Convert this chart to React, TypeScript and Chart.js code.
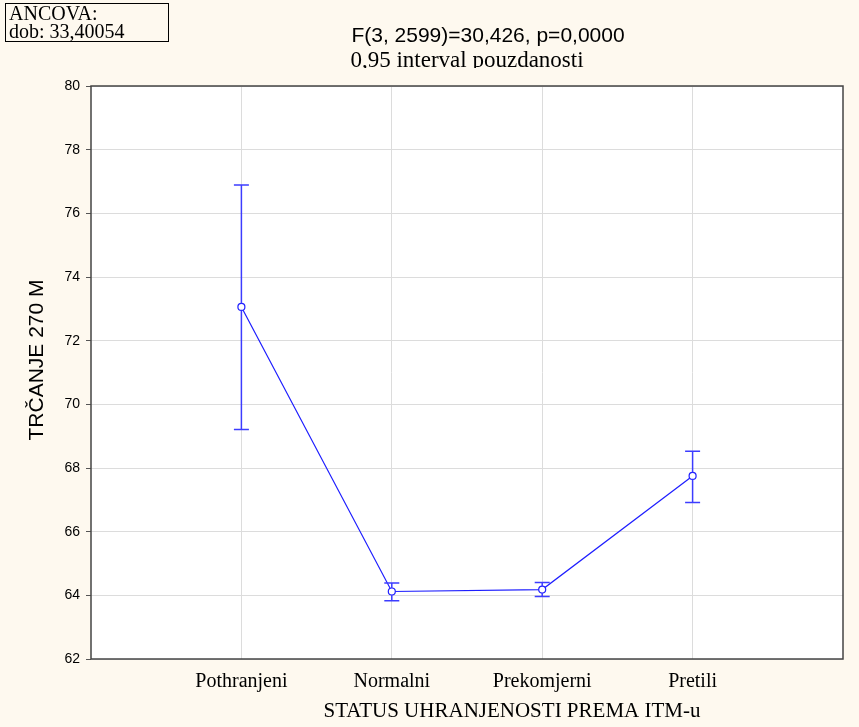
import React, { useEffect, useRef } from "react";
import { Chart, registerables } from "chart.js";

Chart.register(...registerables);

const categories = ["Pothranjeni", "Normalni", "Prekomjerni", "Pretili"];
const means = [73.06, 64.12, 64.18, 67.75];
const upperCI = [76.89, 64.39, 64.4, 68.53];
const lowerCI = [69.21, 63.83, 63.96, 66.92];
const yMin = 62;
const yMax = 80;
const yStep = 2;
const titleLine1 = "F(3, 2599)=30,426, p=0,0000";
const titleLine2 = "0,95 interval pouzdanosti";
const boxLines = ["ANCOVA:", "dob: 33,40054"];
const yTitle = "TRČANJE 270 M";
const xTitle = "STATUS UHRANJENOSTI PREMA ITM-u";

const BG = "#FEF9EF";
const BLUE = "rgb(30,30,255)";
const POINT_R = 3.5;

const decorPlugin = {
  id: "decor",
  beforeDraw(chart: any) {
    const { ctx, chartArea } = chart;
    ctx.save();
    ctx.fillStyle = BG;
    ctx.fillRect(0, 0, chart.width, chart.height);
    ctx.fillStyle = "#FFFFFF";
    ctx.fillRect(chartArea.left, chartArea.top, chartArea.right - chartArea.left, chartArea.bottom - chartArea.top);
    ctx.restore();
  },
  afterDatasetsDraw(chart: any) {
    const { ctx } = chart;
    const xs = chart.scales.x;
    const ys = chart.scales.y;
    ctx.save();
    ctx.strokeStyle = "rgb(60,60,255)";
    ctx.lineWidth = 1.5;
    ctx.setLineDash([]);
    for (let i = 0; i < categories.length; i++) {
      const x = xs.getPixelForValue(i + 1);
      const yu = ys.getPixelForValue(upperCI[i]);
      const yl = ys.getPixelForValue(lowerCI[i]);
      const ym = ys.getPixelForValue(means[i]);
      ctx.beginPath();
      if (ym - POINT_R > yu) {
        ctx.moveTo(x, yu);
        ctx.lineTo(x, ym - POINT_R);
      }
      if (ym + POINT_R < yl) {
        ctx.moveTo(x, ym + POINT_R);
        ctx.lineTo(x, yl);
      }
      ctx.moveTo(x - 7.5, yu);
      ctx.lineTo(x + 7.5, yu);
      ctx.moveTo(x - 7.5, yl);
      ctx.lineTo(x + 7.5, yl);
      ctx.stroke();
    }
    ctx.restore();
  },
  afterDraw(chart: any) {
    const { ctx, chartArea } = chart;
    const xs = chart.scales.x;
    ctx.save();
    // plot border
    ctx.strokeStyle = "#444444";
    ctx.lineWidth = 1.5;
    ctx.strokeRect(chartArea.left, chartArea.top, chartArea.right - chartArea.left, chartArea.bottom - chartArea.top);

    // x tick labels
    ctx.fillStyle = "#000";
    ctx.textAlign = "center";
    ctx.textBaseline = "middle";
    ctx.font = '20px "Liberation Serif"';
    categories.forEach((c, i) => {
      ctx.fillText(c, xs.getPixelForValue(i + 1), 682);
    });
    // x title
    ctx.font = '21px "Liberation Serif"';
    ctx.fillText(xTitle, 512, 711);

    // title lines
    ctx.font = '21px "Liberation Sans"';
    ctx.fillText(titleLine1, 488, 36);
    ctx.save();
    ctx.beginPath();
    ctx.rect(0, 0, chart.width, 68);
    ctx.clip();
    ctx.font = '23px "Liberation Serif"';
    ctx.fillText(titleLine2, 467, 61);
    ctx.restore();

    // y title
    ctx.save();
    ctx.translate(37.5, 360);
    ctx.rotate(-Math.PI / 2);
    ctx.font = '21px "Liberation Sans"';
    ctx.fillText(yTitle, 0, 0);
    ctx.restore();

    // ANCOVA box
    ctx.fillStyle = BG;
    ctx.fillRect(5.5, 3.5, 163, 38);
    ctx.strokeStyle = "#000";
    ctx.lineWidth = 1;
    ctx.strokeRect(5.5, 3.5, 163, 38);
    ctx.fillStyle = "#000";
    ctx.textAlign = "left";
    ctx.textBaseline = "alphabetic";
    ctx.font = '20px "Liberation Serif"';
    ctx.fillText(boxLines[0], 9, 20);
    ctx.fillText(boxLines[1], 9, 38);
    ctx.restore();
  },
};

export default function App() {
  const ref = useRef<HTMLCanvasElement | null>(null);
  useEffect(() => {
    if (!ref.current) return;
    const chart = new Chart(ref.current, {
      type: "scatter",
      data: {
        datasets: [
          {
            data: means.map((m, i) => ({ x: i + 1, y: m })),
            showLine: true,
            borderColor: BLUE,
            borderWidth: 1.2,
            pointRadius: POINT_R,
            pointBorderColor: BLUE,
            pointBackgroundColor: "#FFFFFF",
            pointBorderWidth: 1.2,
            tension: 0,
          },
        ],
      },
      options: {
        responsive: false,
        animation: false,
        devicePixelRatio: 1,
        layout: { padding: { top: 86, right: 16, bottom: 0, left: 0 } },
        plugins: { legend: { display: false }, tooltip: { enabled: false }, title: { display: false } },
        scales: {
          x: {
            type: "linear",
            min: 0,
            max: 5,
            afterBuildTicks: (s: any) => {
              s.ticks = categories.map((_, i) => ({ value: i + 1 }));
            },
            afterFit: (s: any) => {
              s.height = 68;
            },
            ticks: { display: false },
            grid: { color: "#DCDCDC", drawTicks: false, lineWidth: 1 },
            border: { display: false },
          },
          y: {
            min: yMin,
            max: yMax,
            afterFit: (s: any) => {
              s.width = 91;
            },
            ticks: {
              stepSize: yStep,
              color: "#000",
              padding: 6,
              font: { family: '"Liberation Sans"', size: 14 },
            },
            grid: { color: "#DCDCDC", tickColor: "#555555", tickLength: 5, lineWidth: 1 },
            border: { display: false },
          },
        },
      },
      plugins: [decorPlugin],
    });
    return () => chart.destroy();
  }, []);
  return (
    <div style={{ position: "absolute", left: 0, top: 0, width: 859, height: 727, background: BG }}>
      <canvas ref={ref} width={859} height={727} style={{ display: "block" }} />
    </div>
  );
}
